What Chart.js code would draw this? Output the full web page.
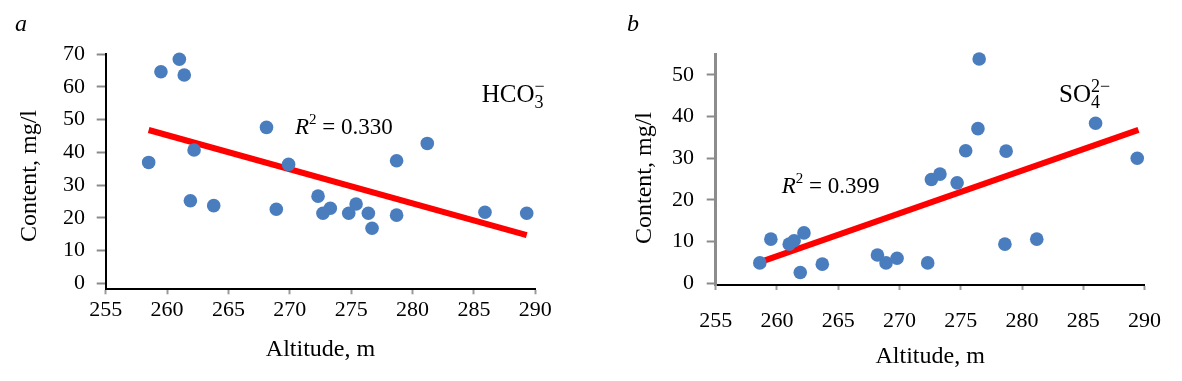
<!DOCTYPE html>
<html><head><meta charset="utf-8">
<script src="https://cdn.jsdelivr.net/npm/chart.js@4.4.0/dist/chart.umd.min.js"></script>
<style>
html,body{margin:0;padding:0;background:#fff;width:1182px;height:381px;overflow:hidden}
canvas{position:absolute;top:0}
#ca{left:0}
#cb{left:590px}
</style></head><body>
<canvas id="ca" width="590" height="381"></canvas>
<canvas id="cb" width="592" height="381"></canvas>
<script>
// ---- data ----
const altitudeTicks = [255, 260, 265, 270, 275, 280, 285, 290];
const hco3YTicks = [0, 5, 10, 15, 20, 25, 30, 35, 40, 45, 50, 55, 60, 65, 70];
const so4YTicks = [0, 5, 10, 15, 20, 25, 30, 35, 40, 45, 50, 55];

const hco3Altitude = [259.5, 261.0, 261.4, 258.5, 262.2, 261.9, 263.8, 268.1, 268.9, 269.9, 278.7,
                      281.2, 272.3, 272.7, 273.3, 274.8, 275.4, 276.4, 276.7, 278.7, 285.9, 289.3];
const hco3Content  = [64.6, 68.4, 63.6, 36.9, 40.7, 25.2, 23.7, 47.6, 22.6, 36.3, 37.4,
                      42.7, 26.6, 21.4, 22.9, 21.4, 24.2, 21.4, 16.8, 20.8, 21.7, 21.4];
const hco3TrendAltitude = [258.5, 289.3];
const hco3TrendContent  = [46.8, 14.7];

const so4Altitude = [258.6, 259.5, 261.0, 261.4, 262.2, 261.9, 263.7, 268.2, 268.9, 269.8, 272.3,
                     276.5, 276.4, 275.4, 278.7, 272.6, 273.3, 274.7, 278.6, 281.2, 286.0, 289.4];
const so4Content  = [4.9, 10.6, 9.4, 10.2, 12.1, 2.6, 4.6, 6.8, 4.9, 6.0, 4.9,
                     53.8, 37.1, 31.8, 31.7, 24.9, 26.2, 24.1, 9.4, 10.6, 38.4, 30.0];
const so4TrendAltitude = [258.9, 289.5];
const so4TrendContent  = [5.4, 36.8];

// ---- helpers ----
const SERIF = "'Liberation Serif', 'Times New Roman', serif";
Chart.defaults.font.family = SERIF;
Chart.defaults.color = '#000';

function pts(xs, ys) { return xs.map((x, i) => ({x: x, y: ys[i]})); }

function drawParts(ctx, x, parts) {
  ctx.save();
  ctx.fillStyle = '#000';
  ctx.textBaseline = 'alphabetic';
  ctx.textAlign = 'left';
  let cx = x;
  for (const p of parts) {
    ctx.font = (p.italic ? 'italic ' : '') + p.size + 'px ' + SERIF;
    ctx.fillText(p.t, cx, p.base);
    const w = ctx.measureText(p.t).width;
    if (!p.noAdvance) cx = cx + w;
  }
  ctx.restore();
}

function drawVertical(ctx, text, x, y, size) {
  ctx.save();
  ctx.translate(x, y);
  ctx.rotate(-Math.PI / 2);
  ctx.fillStyle = '#000';
  ctx.font = size + 'px ' + SERIF;
  ctx.textAlign = 'center';
  ctx.textBaseline = 'middle';
  ctx.fillText(text, 0, 0);
  ctx.restore();
}

function makeChart(id, g) {
  const annot = {
    id: 'annot_' + id,
    afterDraw(chart) { g.annotate(chart.ctx); }
  };
  return new Chart(document.getElementById(id), {
    type: 'scatter',
    data: {
      datasets: [
        {
          data: pts(g.xs, g.ys),
          backgroundColor: '#4a7dbe',
          borderColor: '#4a7dbe',
          pointRadius: 6.8,
          pointHoverRadius: 6.8,
          borderWidth: 0,
          clip: false,
          order: 1
        },
        {
          type: 'line',
          data: pts(g.tx, g.ty),
          borderColor: '#ff0000',
          borderWidth: 6,
          pointRadius: 0,
          fill: false,
          clip: false,
          order: 2,
          borderCapStyle: 'butt'
        }
      ]
    },
    options: {
      responsive: false,
      animation: false,
      events: [],
      layout: {padding: {left: 0, top: g.top, right: g.right, bottom: 0}},
      plugins: {legend: {display: false}, tooltip: {enabled: false}},
      scales: {
        x: {
          type: 'linear', min: 255, max: 290,
          afterBuildTicks: s => { s.ticks = altitudeTicks.map(v => ({value: v})); },
          afterFit: s => { s.height = g.xh; },
          grid: {drawOnChartArea: false, drawTicks: true, tickLength: 5, tickColor: '#9a9a9a', tickWidth: 2},
          border: {display: true, color: '#000', width: 2},
          ticks: {font: {size: 22}, padding: g.xtp, maxRotation: 0, callback: v => String(v)},
          title: {display: true, text: 'Altitude, m', font: {size: 24}, padding: {top: 0, bottom: g.xtitle}}
        },
        y: {
          type: 'linear', min: g.ymin, max: g.ymax,
          afterBuildTicks: s => { s.ticks = g.yt.map(v => ({value: v})); },
          afterFit: s => { s.width = g.yw; },
          grid: {drawOnChartArea: false, drawTicks: true, tickLength: 9, tickColor: '#8a8a8a', tickWidth: 2},
          border: {display: true, color: g.ycol, width: g.ybw},
          ticks: {font: {size: 22}, padding: g.ytp, callback: v => (v % 10 === 0 ? String(v) : '')},
          title: {display: false}
        }
      }
    },
    plugins: [annot]
  });
}

makeChart('ca', {
  xs: hco3Altitude, ys: hco3Content, tx: hco3TrendAltitude, ty: hco3TrendContent,
  top: 54, right: 590 - 535.3, xh: 381 - 289.3, yw: 105.7,
  ymin: -1.83, ymax: 70, yt: hco3YTicks, ycol: '#000', ybw: 2,
  xtp: 3, xtitle: 16.6, ytp: 11.7,
  annotate(ctx) {
    drawVertical(ctx, 'Content, mg/l', 30, 176, 24);
    drawParts(ctx, 15, [{t: 'a', size: 24, italic: true, base: 30.7}]);
    drawParts(ctx, 295, [
      {t: 'R', size: 23, italic: true, base: 134.3},
      {t: '2', size: 15, base: 123.5},
      {t: ' = 0.330', size: 23, base: 134.3}
    ]);
    drawParts(ctx, 481.7, [
      {t: 'HCO', size: 25, base: 101.7},
      {t: '3', size: 18, base: 108, noAdvance: true},
      {t: '\u2212', size: 18, base: 91.5}
    ]);
  }
});

makeChart('cb', {
  xs: so4Altitude, ys: so4Content, tx: so4TrendAltitude, ty: so4TrendContent,
  top: 54, right: 592 - 554.6, xh: 381 - 285, yw: 125.7,
  ymin: -0.4, ymax: 55, yt: so4YTicks, ycol: '#8c8c8c', ybw: 3,
  xtp: 18.5, xtitle: 9.9, ytp: 12.7,
  annotate(ctx) {
    drawVertical(ctx, 'Content, mg/l', 55, 178, 24);
    drawParts(ctx, 37, [{t: 'b', size: 24, italic: true, base: 30.7}]);
    drawParts(ctx, 191.7, [
      {t: 'R', size: 23, italic: true, base: 193.3},
      {t: '2', size: 15, base: 182.5},
      {t: ' = 0.399', size: 23, base: 193.3}
    ]);
    drawParts(ctx, 469, [
      {t: 'SO', size: 25, base: 101.7},
      {t: '4', size: 18, base: 108, noAdvance: true},
      {t: '2\u2212', size: 18, base: 91.5}
    ]);
  }
});
</script>
</body></html>
